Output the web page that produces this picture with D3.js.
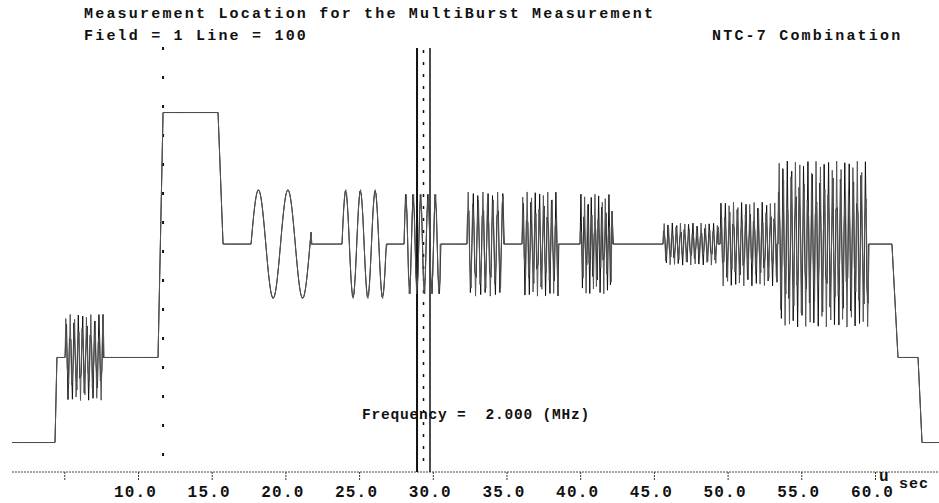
<!DOCTYPE html>
<html>
<head>
<meta charset="utf-8">
<script src="https://cdn.jsdelivr.net/npm/d3@7"></script>
<style>
body { margin: 0; background: #fff; }
svg text { font-family: "Courier New", "Liberation Mono", monospace; font-weight: bold; fill: #111; white-space: pre; }
</style>
</head>
<body>
<svg id="chart" width="939" height="503"></svg>
<script>
// pedestal / step levels of the line (u sec, IRE)
var levelTimes  = [1.45, 4.37, 4.50, 11.36, 11.70, 15.43, 15.77, 61.15, 61.56, 62.92, 63.19, 64.40];
var levelValues = [-37.5, -37.5, 0, 0, 108, 108, 50, 50, 0, 0, -37.5, -37.5];

// bursts riding on the levels: colour burst, multiburst packets, modulated pedestal
var burstStart = [5.05, 17.67, 23.84, 28.05, 32.32, 36.05, 39.99, 45.62, 49.49, 53.42];
var burstEnd   = [7.63, 21.74, 26.82, 30.49, 34.76, 38.49, 42.16, 49.35, 53.35, 59.53];
var burstFreq  = [3.58, 0.5, 1.0, 2.0, 3.0, 3.58, 4.2, 3.58, 3.58, 3.58];
var burstAmp   = [19, 24, 24, 23, 23, 23, 22, 9.3, 18.5, 36.6];

var xTicks = [5, 10, 15, 20, 25, 30, 35, 40, 45, 50, 55, 60];
var xTickLabels = ["", "10.0", "15.0", "20.0", "25.0", "30.0", "35.0", "40.0", "45.0", "50.0", "55.0", "60.0"];

var cursorLine = 11.70;          // field/line marker
var cursorBox = [28.93, 29.81];  // measurement location
var sampleStep = 0.1;            // scope sample interval, u sec
var sweepOffsets = [0, 0.05];    // two overlaid sweeps
var sweepColors = ["#111", "#555"];

var svg = d3.select("svg");
var width = +svg.attr("width");

var x = d3.scaleLinear().domain([10, 60]).range([138, 875]);
var y = d3.scaleLinear().domain([-50.5, 110]).range([472, 108]);
var level = d3.scaleLinear().domain(levelTimes).range(levelValues).clamp(true);

function valueAt(t) {
    var v = level(t);
    for (var i = 0; i < burstStart.length; i++) {
        if (t >= burstStart[i] && t <= burstEnd[i]) {
            v += burstAmp[i] * Math.sin(2 * Math.PI * burstFreq[i] * (t - burstStart[i]));
        }
    }
    return v;
}

function sweep(offset) {
    var t0 = levelTimes[0], t1 = levelTimes[levelTimes.length - 1];
    var times = d3.range(t0 + offset, t1, sampleStep).concat(levelTimes, burstStart, burstEnd);
    times.sort(d3.ascending);
    return times.map(function (t) { return [t, valueAt(t)]; });
}

var line = d3.line()
    .x(function (d) { return x(d[0]); })
    .y(function (d) { return y(d[1]); });

// axis
var xAxis = d3.axisBottom(x)
    .tickValues(xTicks)
    .tickSize(8)
    .tickPadding(2)
    .tickFormat(function (d, i) { return xTickLabels[i]; });

var axisG = svg.append("g")
    .attr("transform", "translate(0," + y(-50.5) + ")")
    .call(xAxis);
axisG.select(".domain").remove();
axisG.append("line")
    .attr("x1", x(1.45)).attr("x2", width)
    .attr("stroke", "#444").attr("stroke-dasharray", "2,1");
axisG.selectAll(".tick line")
    .attr("stroke", "#333").attr("stroke-dasharray", "2,1");
axisG.selectAll(".tick text")
    .attr("fill", "#111")
    .attr("dx", "-3")
    .attr("dy", "0.95em")
    .style("font-size", "16px")
    .style("letter-spacing", "1.2px");

// marker lines
svg.append("line")
    .attr("x1", x(cursorLine)).attr("x2", x(cursorLine))
    .attr("y1", 47).attr("y2", 468)
    .attr("stroke", "#111").attr("stroke-width", 2)
    .attr("stroke-dasharray", "3,26");

svg.append("line")
    .attr("x1", x(cursorBox[0])).attr("x2", x(cursorBox[0]))
    .attr("y1", 48).attr("y2", 472)
    .attr("stroke", "#111").attr("stroke-width", 2);
svg.append("line")
    .attr("x1", x(cursorBox[1])).attr("x2", x(cursorBox[1]))
    .attr("y1", 48).attr("y2", 472)
    .attr("stroke", "#111").attr("stroke-width", 1.5);
svg.append("line")
    .attr("x1", x(d3.mean(cursorBox))).attr("x2", x(d3.mean(cursorBox)))
    .attr("y1", 50).attr("y2", 468)
    .attr("stroke", "#111").attr("stroke-width", 1.5)
    .attr("stroke-dasharray", "3,9");

// waveform, two sweeps
svg.selectAll("path.wave")
    .data(sweepOffsets)
    .enter().append("path")
    .attr("class", "wave")
    .attr("d", function (d) { return line(sweep(d)); })
    .attr("fill", "none")
    .attr("stroke", function (d, i) { return sweepColors[i]; })
    .attr("stroke-width", 1);

// texts
var txt = svg.append("g").style("font-size", "15px").style("letter-spacing", "2.2px");
txt.append("text").attr("x", 84).attr("y", 18)
    .text("Measurement Location for the MultiBurst Measurement");
txt.append("text").attr("x", 84).attr("y", 40)
    .text("Field = 1 Line = 100");
txt.append("text").attr("x", 712).attr("y", 40)
    .text("NTC-7 Combination");
svg.append("text").attr("x", 362).attr("y", 419)
    .style("font-size", "14.5px").style("letter-spacing", "0.8px")
    .text("Frequency =  2.000 (MHz)");

svg.append("text").attr("x", 879).attr("y", 481)
    .style("font-size", "16px").text("u");
svg.append("text").attr("x", 899).attr("y", 488)
    .style("font-size", "15px").style("letter-spacing", "1px").text("sec");
</script>
</body>
</html>
